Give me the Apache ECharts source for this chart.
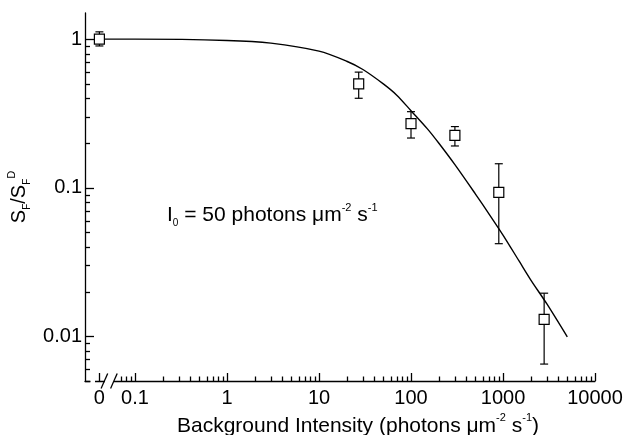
<!DOCTYPE html>
<html>
<head>
<meta charset="utf-8">
<script src="https://cdn.jsdelivr.net/npm/echarts@6/dist/echarts.min.js"></script>
<style>
  html, body { margin: 0; padding: 0; background: #fff; }
  #chart { width: 631px; height: 435px; }
</style>
</head>
<body>
<div id="chart"></div>
<script>
// measured points (0 = no background, drawn on the broken part of the axis)
const intensity = [0, 27, 100, 300, 900, 2800];
const ratio = [1.0, 0.50, 0.27, 0.225, 0.093, 0.013];
const ratioLow = [0.90, 0.40, 0.216, 0.191, 0.042, 0.0065];
const ratioHigh = [1.12, 0.60, 0.325, 0.258, 0.145, 0.0195];

// fitted curve
const fitIntensity = [0, 0.1, 1, 3, 10, 20, 30, 50, 70, 100, 150, 200, 300, 500, 700, 1000, 1500, 2000, 3000, 5000];
const fitRatio = [1.0, 1.0, 0.98, 0.94, 0.83, 0.71, 0.625, 0.50, 0.42, 0.33, 0.25, 0.20, 0.143, 0.091, 0.067, 0.048, 0.032, 0.024, 0.0165, 0.0099];

const xTicks = [0.1, 1, 10, 100, 1000, 10000];
const xTickLabels = ['0.1', '1', '10', '100', '1000', '10000'];
const yTicks = [0.01, 0.1, 1];
const yTickLabels = ['0.01', '0.1', '1'];
const zeroLabel = '0';

const X_MIN = 0.0286, X_MAX = 10000;
const Y_MIN = 0.005, Y_MAX = 1.5;
const ZERO_AT = 0.041; // where "0" sits on the log axis (axis break)

const FONT = '"Liberation Sans", Arial, Helvetica, sans-serif';

function minorTicks(from, to, start) {
    const out = [];
    for (let d = from; d < to; d *= 10) {
        for (let k = 2; k <= 9; k++) {
            const v = +(k * d).toPrecision(3);
            if (v >= start) out.push(v);
        }
    }
    return out;
}
const xMinor = minorTicks(0.01, 10000, 0.07);
const yMinor = [0.005].concat(minorTicks(0.001, 1, 0.006));

const toX = v => v === 0 ? ZERO_AT : v;

function labelFor(values, labels, withZero) {
    return (val) => {
        if (withZero && Math.abs(val - ZERO_AT) / ZERO_AT < 1e-6) return zeroLabel;
        for (let i = 0; i < values.length; i++) {
            if (Math.abs(val - values[i]) / values[i] < 1e-6) return labels[i];
        }
        return '';
    };
}

const chart = echarts.init(document.getElementById('chart'));

const richOf = (size) => ({
    t: { fontSize: size, lineHeight: 26, color: '#000', fontFamily: FONT },
    sub: { fontSize: 10, lineHeight: 11, color: '#000', fontFamily: FONT, verticalAlign: 'bottom' },
    sup: { fontSize: 11, lineHeight: 12, color: '#000', fontFamily: FONT, verticalAlign: 'top' }
});

const option = {
    backgroundColor: '#fff',
    animation: false,
    textStyle: { fontFamily: FONT },
    grid: { left: 85, right: 36, top: 13, bottom: 54, outerBoundsMode: 'none', containLabel: false },
    xAxis: {
        type: 'log', min: X_MIN, max: X_MAX, position: 'bottom',
        axisLine: { show: true, lineStyle: { color: '#000', width: 1.3 } },
        axisTick: { show: false },
        minorTick: { show: false },
        splitLine: { show: false },
        axisLabel: {
            customValues: [ZERO_AT].concat(xTicks),
            formatter: labelFor(xTicks, xTickLabels, true),
            fontSize: 20, color: '#000', fontFamily: FONT, margin: 7
        },
        name: '{t|Background Intensity (photons μm}{sup|-2}{t| s}{sup|-1}{t|)}',
        nameLocation: 'middle', nameGap: 31,
        nameTextStyle: { rich: richOf(21), padding: [0, 0, 0, 36] }
    },
    yAxis: {
        type: 'log', min: Y_MIN, max: Y_MAX, position: 'left',
        axisLine: { show: true, lineStyle: { color: '#000', width: 1.3 } },
        axisTick: { show: false },
        minorTick: { show: false },
        splitLine: { show: false },
        axisLabel: {
            customValues: yTicks,
            formatter: labelFor(yTicks, yTickLabels, false),
            fontSize: 20, color: '#000', fontFamily: FONT, margin: 3
        },
        name: '{t|S}{sub|F}{t|/S}{sub|F}{sup|D}',
        nameLocation: 'middle', nameRotate: 90, nameGap: 48,
        nameTextStyle: { rich: richOf(20) }
    },
    series: [
        {
            type: 'line',
            data: fitIntensity.map((v, i) => [toX(v), fitRatio[i]]),
            showSymbol: false,
            smooth: 0.3,
            lineStyle: { color: '#000', width: 1.4 },
            z: 2
        },
        {
            type: 'custom',
            data: intensity.map((v, i) => [toX(v), ratioLow[i], ratioHigh[i]]),
            encode: { x: 0, y: [1, 2] },
            renderItem(params, api) {
                const x = api.value(0);
                const lo = api.coord([x, api.value(1)]);
                const hi = api.coord([x, api.value(2)]);
                const w = 4;
                const st = { stroke: '#000', lineWidth: 1.2 };
                return {
                    type: 'group',
                    children: [
                        { type: 'line', shape: { x1: lo[0], y1: lo[1], x2: hi[0], y2: hi[1] }, style: st },
                        { type: 'line', shape: { x1: lo[0] - w, y1: lo[1], x2: lo[0] + w, y2: lo[1] }, style: st },
                        { type: 'line', shape: { x1: hi[0] - w, y1: hi[1], x2: hi[0] + w, y2: hi[1] }, style: st }
                    ]
                };
            },
            z: 3
        },
        {
            type: 'scatter',
            data: intensity.map((v, i) => [toX(v), ratio[i]]),
            symbol: 'rect',
            symbolSize: 10,
            itemStyle: { color: '#fff', borderColor: '#000', borderWidth: 1.2, opacity: 1 },
            z: 4
        }
    ]
};

chart.setOption(option);

// ticks (inside, major + minor), axis break marks and the annotation
const px = v => chart.convertToPixel({ xAxisIndex: 0 }, v);
const py = v => chart.convertToPixel({ yAxisIndex: 0 }, v);
const by = py(Y_MIN);
const ax = px(X_MIN);
const zx = px(ZERO_AT);

const seg = (x1, y1, x2, y2, z) => ({
    type: 'line', z: z || 50, silent: true,
    shape: { x1, y1, x2, y2 },
    style: { stroke: '#000', lineWidth: 1.3 }
});

const graphics = [];
[ZERO_AT].concat(xTicks).forEach(v => {
    const x = Math.round(px(v)) + 0.5;
    graphics.push(seg(x, by, x, by - 8));
});
xMinor.forEach(v => {
    const x = Math.round(px(v)) + 0.5;
    graphics.push(seg(x, by, x, by - 4.5));
});
yTicks.forEach(v => {
    const y = Math.round(py(v)) + 0.5;
    graphics.push(seg(ax, y, ax + 9, y));
});
yMinor.forEach(v => {
    const y = Math.round(py(v)) + 0.5;
    graphics.push(seg(ax, y, ax + 5, y));
});

graphics.push(
    { type: 'rect', z: 100, silent: true, shape: { x: ax + 5.5, y: by - 2, width: 4.5, height: 4 }, style: { fill: '#fff' } },
    { type: 'rect', z: 100, silent: true, shape: { x: zx + 5.5, y: by - 2.5, width: 9, height: 5 }, style: { fill: '#fff' } },
    seg(zx + 1.7, by + 7.5, zx + 8.3, by - 7.5, 101),
    seg(zx + 11.2, by + 7.5, zx + 17.8, by - 7.5, 101),
    {
        type: 'text', z: 100, left: 167, top: 202,
        style: {
            text: '{t|I}{sub|0}{t| = 50 photons μm}{sup|-2}{t| s}{sup|-1}',
            rich: richOf(21)
        }
    }
);

chart.setOption({ graphic: graphics });
</script>
</body>
</html>
